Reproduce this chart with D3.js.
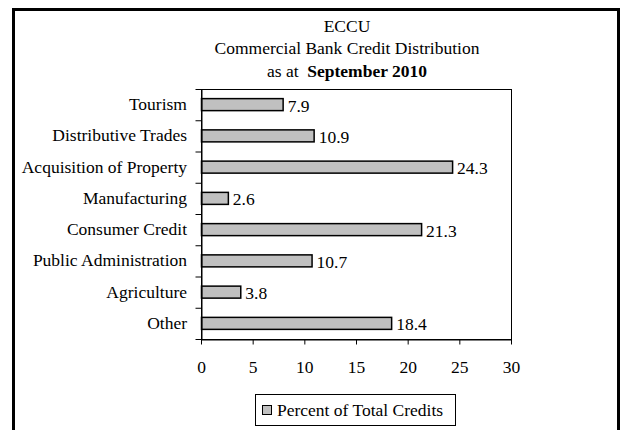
<!DOCTYPE html>
<html>
<head>
<meta charset="utf-8">
<script src="https://cdn.jsdelivr.net/npm/d3@7"></script>
</head>
<body style="margin:0; background:#fff">
<svg id="chart" width="621" height="430"></svg>
<script>
// Sectors, top to bottom, and their share of total credit (%)
const categories = ["Tourism", "Distributive Trades", "Acquisition of Property", "Manufacturing",
                    "Consumer Credit", "Public Administration", "Agriculture", "Other"];
const values = [7.9, 10.9, 24.3, 2.6, 21.3, 10.7, 3.8, 18.4];
const xTicks = [0, 5, 10, 15, 20, 25, 30];
const titleLines = ["ECCU", "Commercial Bank Credit Distribution"];
const titleDatePrefix = "as at ";
const titleDate = "September 2010";
const seriesName = "Percent of Total Credits";

const FONT = '"Liberation Serif", monospace';
const fontSize = 17.5;

const svg = d3.select("#chart");

// Outer chart frame (bottom edge runs past the page)
svg.append("rect")
  .attr("x", 13.5).attr("y", 9.5)
  .attr("width", 605).attr("height", 460)
  .attr("fill", "none").attr("stroke", "#000").attr("stroke-width", 3);

const plot = { left: 201, right: 511, top: 89, bottom: 339 };

const x = d3.scaleLinear().domain([0, 30]).range([plot.left, plot.right]);
const y = d3.scaleBand().domain(categories).range([plot.top, plot.bottom]).padding(0);
const edges = d3.scaleLinear().domain([0, categories.length]).range([plot.top, plot.bottom]);

// Title
const cx = 347;
titleLines.forEach((t, i) => {
  svg.append("text").attr("x", cx).attr("y", 31.5 + i * 22.5)
    .attr("text-anchor", "middle").attr("font-size", fontSize).text(t);
});
const t3 = svg.append("text").attr("x", cx).attr("y", 76.5)
  .attr("text-anchor", "middle").attr("font-size", fontSize);
t3.append("tspan").text(titleDatePrefix + "\u00a0");
t3.append("tspan").attr("font-weight", "bold").text(titleDate);

// Plot area border
svg.append("rect")
  .attr("x", plot.left + 0.5).attr("y", plot.top + 0.5)
  .attr("width", plot.right - plot.left).attr("height", plot.bottom - plot.top)
  .attr("fill", "#fff").attr("stroke", "#000").attr("stroke-width", 1);

// Bars
const barH = 12;
svg.append("g").selectAll("rect")
  .data(categories)
  .join("rect")
  .attr("x", x(0) + 0.5)
  .attr("y", d => y(d) + y.bandwidth() / 2 - barH / 2)
  .attr("width", (d, i) => x(values[i]) - x(0))
  .attr("height", barH)
  .attr("fill", "#c0c0c0")
  .attr("stroke", "#000")
  .attr("stroke-width", 1.5);

// Value labels
svg.append("g")
  .selectAll("text")
  .data(categories)
  .join("text")
  .attr("font-size", fontSize)
  .attr("x", (d, i) => x(values[i]) + 5)
  .attr("y", d => y(d) + y.bandwidth() / 2)
  .attr("dy", "0.4em")
  .text((d, i) => values[i].toFixed(1));

// Category axis: tick marks at band edges
const yEdgeAxis = svg.append("g")
  .attr("transform", `translate(${plot.left + 0.5},0)`)
  .call(d3.axisLeft(edges).tickValues(d3.range(categories.length + 1)).tickFormat("").tickSize(6).tickSizeOuter(0));
yEdgeAxis.select(".domain").attr("stroke", "#000");
yEdgeAxis.selectAll(".tick line").attr("stroke", "#000");

// Category labels
const yLabelAxis = svg.append("g")
  .attr("transform", `translate(${plot.left},0)`)
  .call(d3.axisLeft(y).tickSize(0).tickPadding(14));
yLabelAxis.select(".domain").remove();
yLabelAxis.selectAll("text").attr("font-size", fontSize).attr("fill", "#000");

// Value axis
const xAxis = svg.append("g")
  .attr("transform", `translate(0,${plot.bottom + 0.5})`)
  .call(d3.axisBottom(x).tickValues(xTicks).tickSize(5).tickSizeOuter(0).tickPadding(16));
xAxis.select(".domain").attr("stroke", "#000");
xAxis.selectAll(".tick line").attr("stroke", "#000");
xAxis.selectAll("text").attr("font-size", fontSize).attr("fill", "#000");

// Legend
const legend = svg.append("g");
legend.append("rect")
  .attr("x", 255.5).attr("y", 394.5).attr("width", 200).attr("height", 31)
  .attr("fill", "#fff").attr("stroke", "#000").attr("stroke-width", 1);
legend.append("rect")
  .attr("x", 262.5).attr("y", 405.5).attr("width", 9).attr("height", 9)
  .attr("fill", "#c0c0c0").attr("stroke", "#000").attr("stroke-width", 1);
legend.append("text")
  .attr("x", 277).attr("y", 416)
  .attr("font-size", fontSize)
  .text(seriesName);

// Serif face for every label
svg.selectAll("g").attr("font-family", null);
svg.selectAll("text").style("font-family", FONT);
</script>
</body>
</html>
